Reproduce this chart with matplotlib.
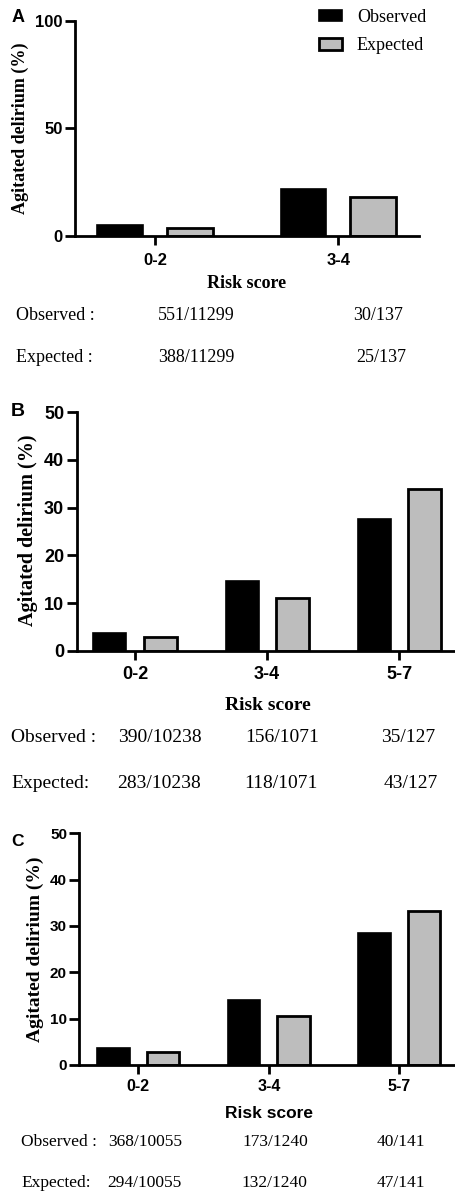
import matplotlib
matplotlib.use("Agg")
import matplotlib.pyplot as plt
import numpy as np

# values (percent)
groups_a = ["0-2", "3-4"]
obs_a = [4.9, 21.9]
exp_a = [3.4, 18.2]
obs_txt_a = ["551/11299", "30/137"]
exp_txt_a = ["388/11299", "25/137"]

groups_bc = ["0-2", "3-4", "5-7"]
obs_b = [3.8, 14.6, 27.6]
exp_b = [2.8, 11.0, 33.9]
obs_txt_b = ["390/10238", "156/1071", "35/127"]
exp_txt_b = ["283/10238", "118/1071", "43/127"]

obs_c = [3.7, 14.0, 28.4]
exp_c = [2.9, 10.6, 33.3]
obs_txt_c = ["368/10055", "173/1240", "40/141"]
exp_txt_c = ["294/10055", "132/1240", "47/141"]

W, H = 456, 1192
SERIF = "Liberation Serif"
SANS = "Liberation Sans"
GREY = "#bdbdbd"

fig = plt.figure(figsize=(W / 100, H / 100), dpi=100)


def px_axes(left, top, right, bottom):
    return fig.add_axes([left / W, 1 - bottom / H, (right - left) / W, (bottom - top) / H])


def ftext(x, y, s, **kw):
    fig.text(x / W, 1 - y / H, s, **kw)


def panel(box, groups, obs, exp, ymax, yticks, xlim, tsize, xsize, pad):
    ax = px_axes(*box)
    x = np.arange(len(groups))
    b1 = ax.bar(x - 0.19, obs, 0.25, color="black", edgecolor="black", linewidth=1.2)
    b2 = ax.bar(x + 0.19, exp, 0.25, color=GREY, edgecolor="black", linewidth=2.0)
    ax.set_ylim(0, ymax)
    ax.set_xlim(*xlim)
    ax.set_yticks(yticks)
    ax.set_xticks(x)
    ax.set_xticklabels(groups)
    for s in ["top", "right"]:
        ax.spines[s].set_visible(False)
    for s in ["left", "bottom"]:
        ax.spines[s].set_linewidth(2.0)
    ax.tick_params(axis="y", length=7, width=2.0, pad=2, labelsize=tsize)
    ax.tick_params(axis="x", length=6.5, width=2.0, pad=pad, labelsize=xsize)
    for lab in ax.get_xticklabels() + ax.get_yticklabels():
        lab.set_fontfamily(SANS)
        lab.set_fontweight("bold")
    return ax, b1, b2


# ---- A
ax, b1, b2 = panel((75, 20.7, 419, 235.7), groups_a, obs_a, exp_a, 100, [0, 50, 100],
                   (-0.437, 1.44), 12, 12, 6)
ax.legend([b1, b2], ["Observed", "Expected"], frameon=False, loc="upper left",
          bbox_to_anchor=(319 / W, 1 - 9 / H), bbox_transform=fig.transFigure,
          prop={"family": SERIF, "size": 13}, handlelength=1.3, handleheight=0.6,
          handletextpad=0.8, labelspacing=0.62, borderaxespad=0, borderpad=0)
ftext(18, 18, "A", family=SANS, weight="bold", size=13, ha="center", va="center")
ftext(20, 128, "Agitated delirium (%)", family=SERIF, weight="bold", size=13,
      rotation=90, ha="center", va="center")
ftext(247, 284, "Risk score", family=SERIF, weight="bold", size=13, ha="center", va="center")
ftext(16, 316, "Observed :", family=SERIF, size=13, va="center")
ftext(16, 357, "Expected :", family=SERIF, size=13, va="center")
for xp, t in zip([158, 353], obs_txt_a):
    ftext(xp, 316, t, family=SERIF, size=13, va="center")
for xp, t in zip([158, 356], exp_txt_a):
    ftext(xp, 357, t, family=SERIF, size=13, va="center")

# ---- B
panel((76.7, 412.3, 456, 650.7), groups_bc, obs_b, exp_b, 50, [0, 10, 20, 30, 40, 50],
      (-0.442, 2.43), 13, 13, 4.5)
ftext(18, 412, "B", family=SANS, weight="bold", size=14, ha="center", va="center")
ftext(28, 530, "Agitated delirium (%)", family=SERIF, weight="bold", size=14.5,
      rotation=90, ha="center", va="center")
ftext(268, 705, "Risk score", family=SERIF, weight="bold", size=14, ha="center", va="center")
ftext(11, 737, "Observed :", family=SERIF, size=14, va="center")
ftext(11, 783, "Expected:", family=SERIF, size=14, va="center")
for xp, t in zip([118, 245, 381], obs_txt_b):
    ftext(xp, 737, t, family=SERIF, size=14, va="center")
for xp, t in zip([117, 244, 384], exp_txt_b):
    ftext(xp, 783, t, family=SERIF, size=14, va="center")

# ---- C
panel((79.5, 833.3, 456, 1065), groups_bc, obs_c, exp_c, 50, [0, 10, 20, 30, 40, 50],
      (-0.45, 2.434), 11, 11.5, 3.5)
ftext(18, 842, "C", family=SANS, weight="bold", size=12.5, ha="center", va="center")
ftext(35, 949, "Agitated delirium (%)", family=SERIF, weight="bold", size=14,
      rotation=90, ha="center", va="center")
ftext(269, 1113, "Risk score", family=SANS, weight="bold", size=12.5, ha="center", va="center")
ftext(21, 1142, "Observed :", family=SERIF, size=12.5, va="center")
ftext(21, 1183, "Expected:", family=SERIF, size=12.5, va="center")
for xp, t in zip([108, 242, 377], obs_txt_c):
    ftext(xp, 1142, t, family=SERIF, size=12.5, va="center")
for xp, t in zip([107, 241, 377], exp_txt_c):
    ftext(xp, 1183, t, family=SERIF, size=12.5, va="center")

fig.savefig("out.png", dpi=100)
